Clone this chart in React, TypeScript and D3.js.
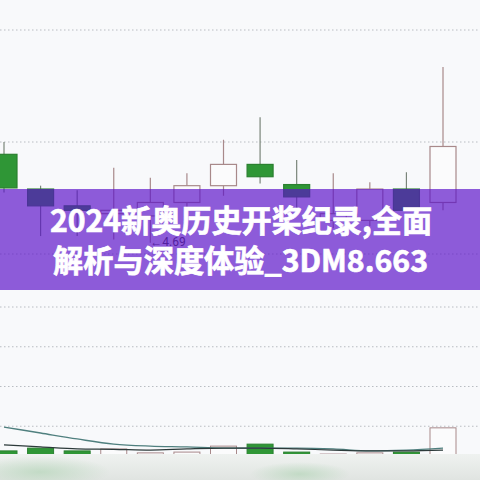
import { useMemo } from "react";
import * as d3 from "d3";

const W = 480;
const H = 480;

// candle data (prices)
const opens = [4.769, 4.738, 4.723, 4.716, 4.714, 4.726, 4.741, 4.76, 4.742, 4.71, 4.71, 4.738, 4.726];
const highs = [4.78, 4.741, 4.737, 4.757, 4.748, 4.752, 4.782, 4.802, 4.764, 4.752, 4.744, 4.753, 4.847];
const lows = [4.735, 4.696, 4.696, 4.693, 4.69, 4.718, 4.732, 4.743, 4.719, 4.703, 4.705, 4.733, 4.719];
const closes = [4.739, 4.723, 4.719, 4.719, 4.726, 4.741, 4.76, 4.749, 4.731, 4.716, 4.738, 4.719, 4.776];

// volume + two averages
const volumes = [38, 45, 38, 43, 33, 35, 50, 55, 35, 30, 33, 35, 96];
const volMaShort = [98, 83, 68, 55, 50, 48, 45, 45, 45, 43, 38, 40, 45];
const volMaLong = [53, 48, 43, 42, 40, 43, 45, 45, 43, 40, 38, 38, 40];

const priceGrid = [4.88, 4.78, 4.68];
const volGrid = [100, 200, 300, 400];

const lowLabel = "←4.69";
const titleLines = ["2024新奥历史开桨纪录,全面", "解析与深度体验_3DM8.663"];

const UP = "#a8898a";
const DOWN = "#2f9636";
const GRID = "#b9bdc2";

export default function App() {
  const x = useMemo(() => d3.scaleLinear().domain([0, 12]).range([4, 443]), []);
  const y = useMemo(() => d3.scaleLinear().domain([4.68, 4.88]).range([254, 30]), []);
  const yv = useMemo(() => d3.scaleLinear().domain([0, 400]).range([466, 307]), []);

  const bodyW = 26;
  const idx = d3.range(opens.length);

  const lineGen = d3
    .line<number>()
    .x((_, i) => x(i))
    .y((d) => yv(d))
    .curve(d3.curveMonotoneX);

  const lowIdx = d3.minIndex(lows);

  return (
    <div style={{ position: "fixed", left: 0, top: 0, width: W, height: H }}>
      <svg width={W} height={H} style={{ display: "block" }}>
        <defs>
          <linearGradient id="foot" x1="0" y1="0" x2="0" y2="1">
            <stop offset="0" stopColor="#eff2f0" />
            <stop offset="1" stopColor="#e0e4e1" />
          </linearGradient>
          <radialGradient id="blobA" cx="0.5" cy="0.5" r="0.5">
            <stop offset="0" stopColor="#b7d6bb" stopOpacity="0.75" />
            <stop offset="1" stopColor="#b7d6bb" stopOpacity="0" />
          </radialGradient>
        </defs>

        <rect width={W} height={H} fill="#f8f9fb" />

        {/* price pane grid */}
        {priceGrid.map((g) => (
          <line key={g} x1={0} x2={W} y1={y(g)} y2={y(g)} stroke={GRID} strokeDasharray="1.5,2.5" />
        ))}
        {/* volume pane grid */}
        {volGrid.map((g) => (
          <line key={g} x1={0} x2={W} y1={yv(g)} y2={yv(g)} stroke={GRID} strokeDasharray="1.5,2.5" />
        ))}

        {/* candles */}
        {idx.map((i) => {
          const up = closes[i] >= opens[i];
          const top = y(Math.max(opens[i], closes[i]));
          const bot = y(Math.min(opens[i], closes[i]));
          const cx = x(i);
          return (
            <g key={i}>
              <line x1={cx} x2={cx} y1={y(highs[i])} y2={y(lows[i])} stroke={up ? UP : "#7a857a"} strokeWidth={1.2} />
              <rect
                x={cx - bodyW / 2}
                y={top}
                width={bodyW}
                height={Math.max(1.5, bot - top)}
                fill={up ? "#fbfbfc" : DOWN}
                stroke={up ? UP : "#2b8030"}
                strokeWidth={1.2}
              />
            </g>
          );
        })}

        <text x={x(lowIdx)} y={y(lows[lowIdx]) + 3} fontFamily="Roboto, sans-serif" fontSize={12} fill="#444">
          {lowLabel}
        </text>

        {/* volume bars */}
        {idx.map((i) => {
          const up = closes[i] >= opens[i];
          const cx = x(i);
          return (
            <rect
              key={i}
              x={cx - bodyW / 2}
              y={yv(volumes[i])}
              width={bodyW}
              height={yv(0) - yv(volumes[i])}
              fill={up ? "#fbfbfc" : DOWN}
              stroke={up ? UP : "#2b8030"}
              strokeWidth={1}
            />
          );
        })}
        <path d={lineGen(volMaShort) ?? ""} fill="none" stroke="#4f7f7e" strokeWidth={1.3} />
        <path d={lineGen(volMaLong) ?? ""} fill="none" stroke="#2c3a3a" strokeWidth={1.2} />

        {/* blurred footer */}
        <rect x={0} y={454} width={W} height={26} fill="url(#foot)" />
        <ellipse cx={40} cy={472} rx={70} ry={16} fill="url(#blobA)" />
        <ellipse cx={300} cy={474} rx={50} ry={12} fill="url(#blobA)" />

        {/* purple banner */}
        <rect x={0} y={189} width={W} height={101} fill="#5a10c8" opacity={0.68} />
        {titleLines.map((t, i) => (
          <text
            key={t}
            x={i === 0 ? 241 : 240.5}
            y={i === 0 ? 232 : 272}
            textAnchor="middle"
            fontFamily="'Noto Sans CJK SC', sans-serif"
            fontWeight={700}
            fontSize={31}
            fill="#ffffff"
            stroke="#ffffff"
            strokeWidth={0.7}
            textLength={i === 0 ? 382 : 375}
            lengthAdjust="spacingAndGlyphs"
          >
            {t}
          </text>
        ))}
      </svg>
    </div>
  );
}
